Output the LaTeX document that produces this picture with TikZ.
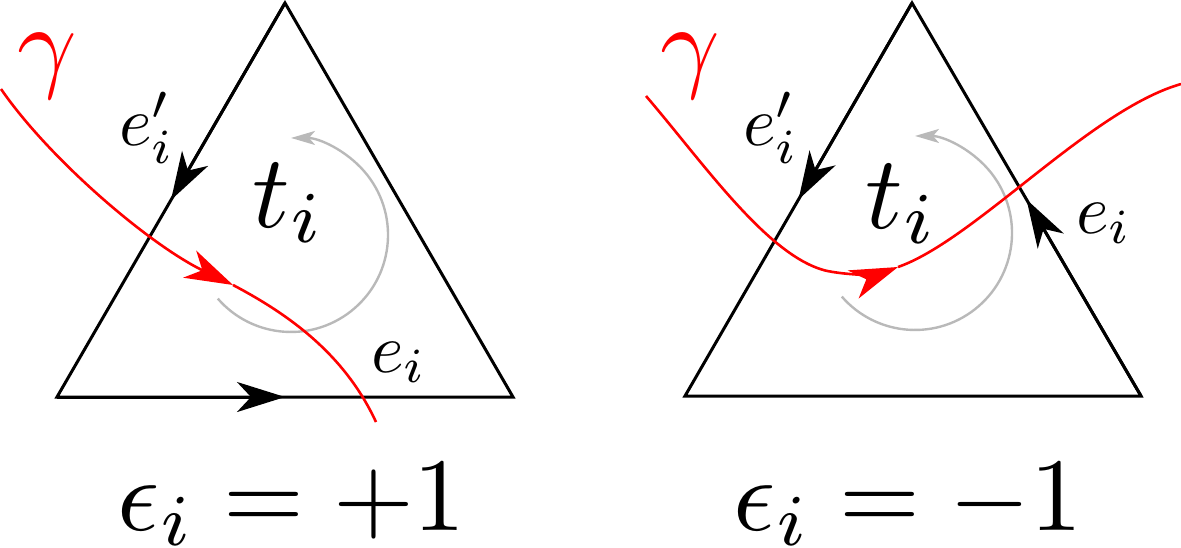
\documentclass[tikz,border=0pt]{standalone}
\usepackage{graphicx}
\usetikzlibrary{arrows.meta,calc}
\definecolor{arcgray}{RGB}{185,185,185}
\newcommand\BigLbl[1]{\scalebox{5.2}{#1}}
\newcommand\SmallLbl[1]{\scalebox{3.5}{#1}}
\begin{document}
\begin{tikzpicture}[x=0.5pt,y=-0.5pt,
  edge/.style={line width=1.5pt},
  bigarrow/.style={-{Stealth[length=24pt,width=15pt,inset=7pt]}},
  gam/.style={red,line width=1.3pt},
  turn/.style={draw=arcgray,line width=1.2pt,-{Stealth[length=12pt,width=7pt,inset=3pt]}},
  lbl/.style={inner sep=0pt}]
\useasboundingbox (0,0) rectangle (1181,547);
% ---------- left triangle ----------
\coordinate (LA) at (57,397);
\coordinate (LB) at (513,397);
\coordinate (LC) at (285,3);
\draw[edge] (LA) -- (LB) -- (LC) -- cycle;
\draw[edge,bigarrow] (LC) -- ($(LC)!0.5!(LA)$);
\draw[edge,bigarrow] (LA) -- ($(LA)!0.5!(LB)$);
\coordinate (LO) at (291,235);
\draw[turn] ($(LO)+(-73.2,63.6)$) arc[start angle=221,end angle=450,radius=48.5pt];
\coordinate (LG1) at (1,89);
\coordinate (LGM) at (233,285);
\coordinate (LG2) at (376,422);
\draw[gam,bigarrow] (LG1) .. controls (50,160) and (150,245) .. (LGM);
\draw[gam] (LGM) .. controls (290,315) and (345,355) .. (LG2);
\node[lbl,text=red] (lg) at (47,66) {\BigLbl{$\gamma$}};
\node[lbl,anchor=base] (lep) at (147,145) {\SmallLbl{$e'_i$}};
\node[lbl,anchor=base] (lt) at (289,227) {\BigLbl{$t_i$}};
\node[lbl,anchor=base] (le) at (399,372) {\SmallLbl{$e_i$}};
\node[lbl,anchor=base] (leq) at (292,530) {\BigLbl{$\epsilon_i=+1$}};
% ---------- right triangle ----------
\coordinate (RA) at (685,396);
\coordinate (RB) at (1141,396);
\coordinate (RC) at (912,3);
\draw[edge] (RA) -- (RB) -- (RC) -- cycle;
\draw[edge,bigarrow] (RC) -- ($(RC)!0.5!(RA)$);
\draw[edge,bigarrow] (RB) -- ($(RB)!0.5!(RC)$);
\coordinate (RO) at (915,233);
\draw[turn] ($(RO)+(-73.2,63.6)$) arc[start angle=221,end angle=450,radius=48.5pt];
\coordinate (RG1) at (646,96);
\coordinate (RGK) at (833,272);
\coordinate (RGM) at (898,267);
\coordinate (RG2) at (1181,84);
\draw[gam] (RG1) .. controls (706,166) and (773,264) .. (RGK);
\draw[gam,bigarrow] (RGK) .. controls (858,276) and (880,274) .. (RGM);
\draw[gam] (RGM) .. controls (975,240) and (1090,110) .. (RG2);
\node[lbl,text=red] (rg) at (690,66) {\BigLbl{$\gamma$}};
\node[lbl,anchor=base] (rep) at (771,145) {\SmallLbl{$e'_i$}};
\node[lbl,anchor=base] (rt) at (902,228) {\BigLbl{$t_i$}};
\node[lbl,anchor=base] (re) at (1104,233) {\SmallLbl{$e_i$}};
\node[lbl,anchor=base] (req) at (908,530) {\BigLbl{$\epsilon_i=-1$}};
\end{tikzpicture}
\end{document}
